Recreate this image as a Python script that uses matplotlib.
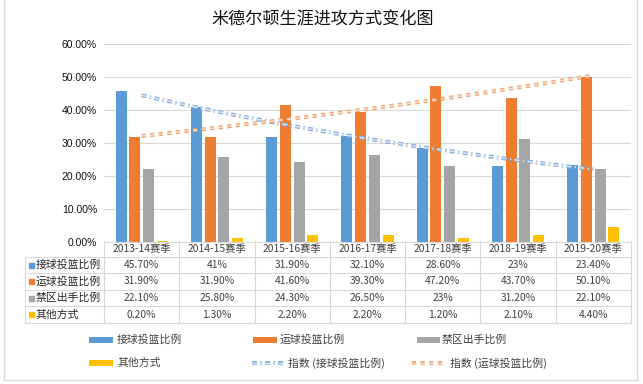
import numpy as np
import matplotlib
matplotlib.use('Agg')
import matplotlib.pyplot as plt
from matplotlib.lines import Line2D
from matplotlib.patches import Rectangle
import matplotlib.transforms as mtransforms
import matplotlib.patheffects as pe

plt.rcParams['font.family'] = ['Noto Sans CJK SC', 'DejaVu Sans']

title = '米德尔顿生涯进攻方式变化图'
seasons = ['2013-14赛季', '2014-15赛季', '2015-16赛季', '2016-17赛季',
           '2017-18赛季', '2018-19赛季', '2019-20赛季']
series_names = ['接球投篮比例', '运球投篮比例', '禁区出手比例', '其他方式']
catch_shoot = [45.7, 41, 31.9, 32.1, 28.6, 23, 23.4]
pull_up = [31.9, 31.9, 41.6, 39.3, 47.2, 43.7, 50.1]
paint = [22.1, 25.8, 24.3, 26.5, 23, 31.2, 22.1]
other = [0.2, 1.3, 2.2, 2.2, 1.2, 2.1, 4.4]
trend_names = ['指数 (接球投篮比例)', '指数 (运球投篮比例)']
yticks = [0, 10, 20, 30, 40, 50, 60]

colors = ['#5B9BD5', '#ED7D31', '#A5A5A5', '#FFC000']
series = [catch_shoot, pull_up, paint, other]

W, H = 643, 384
fig = plt.figure(figsize=(W / 100, H / 100), dpi=100)


def fx(px):
    return px / W


def fy(py):
    return 1 - py / H


ax = fig.add_axes([fx(104), fy(242), (631 - 104) / W, (242 - 44) / H])
x = np.arange(len(seasons))
bw = 0.146
pitch = 0.182
for i, (vals, c) in enumerate(zip(series, colors)):
    ax.bar(x + (i - 1.5) * pitch, vals, width=bw, color=c, zorder=2)

ax.set_xlim(-0.5, len(seasons) - 0.5)
ax.set_ylim(0, 60)
ax.set_yticks(yticks)
ax.set_yticklabels([f'{v:.2f}%' for v in yticks], fontsize=7.5,
                   family=['Liberation Sans', 'DejaVu Sans'], color='#111111')
ax.tick_params(axis='y', length=0, pad=5)
ax.set_xticks([])
ax.yaxis.grid(True, color='#D9D9D9', lw=0.8, zorder=0)
ax.set_axisbelow(True)
for s in ax.spines.values():
    s.set_visible(False)

# exponential trendlines
xs = np.linspace(0, len(seasons) - 1, 100)
trend_styles = [
    dict(outer='#86AEDC', inner='#DCE9F6', dashes=(3.6, 2.4, 1.0, 2.4)),
    dict(outer='#EFA06C', inner='#FBE3D3', dashes=(3.0, 3.2)),
]
for vals, st in zip([catch_shoot, pull_up], trend_styles):
    b, a = np.polyfit(x, np.log(vals), 1)
    ys = np.exp(a + b * xs)
    ax.plot(xs, ys, color=st['inner'], lw=1.0, linestyle=(0, st['dashes']),
            zorder=3,
            path_effects=[pe.Stroke(linewidth=2.8, foreground=st['outer']), pe.Normal()])

# title
fig.text(fx(323), fy(19), title, ha='center', va='center', fontsize=12.3, color='#111111')

# data table
trans = mtransforms.blended_transform_factory(ax.transData, fig.transFigure)
grid_c = '#D9D9D9'
row_bounds = [241, 257, 273, 290, 306, 323]
for k in range(len(seasons) + 1):
    fig.add_artist(Line2D([k - 0.5, k - 0.5], [fy(241), fy(323)], transform=trans,
                          color=grid_c, lw=0.8))
fig.add_artist(Line2D([fx(104), fx(631)], [fy(241.5), fy(241.5)], color=grid_c, lw=0.8))
for yb in row_bounds[1:]:
    fig.add_artist(Line2D([fx(25), fx(631)], [fy(yb), fy(yb)], color=grid_c, lw=0.8))
fig.add_artist(Line2D([fx(25), fx(25)], [fy(257), fy(323)], color=grid_c, lw=0.8))

for k, s in enumerate(seasons):
    fig.text(k, fy((241 + 257) / 2), s, transform=trans, ha='center', va='center',
             fontsize=7.4, color='#404040')


def fmt(v):
    return f'{int(v)}%' if float(v).is_integer() else f'{v:.2f}%'


for r, (name, vals, c) in enumerate(zip(series_names, series, colors)):
    yc = (row_bounds[r + 1] + row_bounds[r + 2]) / 2
    fig.add_artist(Rectangle((fx(29), fy(yc + 2.5)), 5 / W, 5 / H, color=c))
    fig.text(fx(36), fy(yc), name, ha='left', va='center', fontsize=7.8, color='#262626')
    for k, v in enumerate(vals):
        fig.text(k, fy(yc), fmt(v), transform=trans, ha='center', va='center',
                 fontsize=7.4, color='#404040')

# legend
legend_items = [
    ('patch', 0, 89, 113, 117, 340),
    ('patch', 1, 253, 277, 280, 340),
    ('patch', 2, 417, 440, 442, 340),
    ('patch', 3, 89, 113, 117, 363),
    ('trend', 0, 252, 283, 288, 363),
    ('trend', 1, 412, 443, 450, 363),
]
for kind, idx, x0, x1, xt, yc in legend_items:
    if kind == 'patch':
        fig.add_artist(Line2D([fx(x0), fx(x1)], [fy(yc), fy(yc)], color=colors[idx],
                              lw=4.3, solid_capstyle='butt'))
        label = series_names[idx]
    else:
        st = trend_styles[idx]
        fig.add_artist(Line2D([fx(x0), fx(x1)], [fy(yc), fy(yc)], color=st['inner'], lw=1.0,
                              linestyle=(0, st['dashes']),
                              path_effects=[pe.Stroke(linewidth=2.8, foreground=st['outer']),
                                            pe.Normal()]))
        label = trend_names[idx]
    fig.text(fx(xt), fy(yc), label, ha='left', va='center', fontsize=7.8, color='#404040')

# chart border
for xs_, ys_ in [([4, 4], [0, 380]), ([637, 637], [0, 380]), ([4, 637], [380, 380])]:
    fig.add_artist(Line2D([fx(v) for v in xs_], [fy(v) for v in ys_], color=grid_c, lw=1.0))

fig.savefig('out.png', dpi=100, facecolor='white')
